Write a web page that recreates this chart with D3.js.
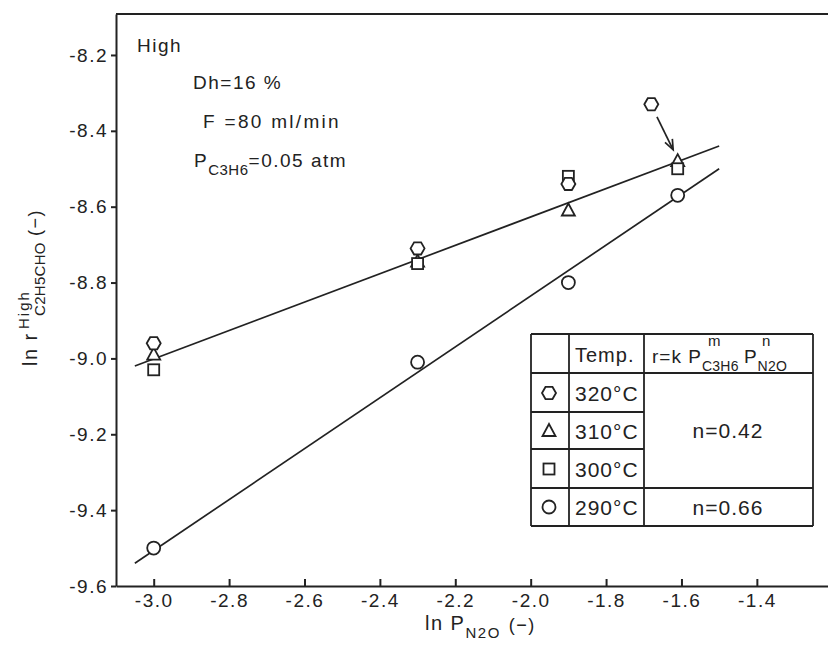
<!DOCTYPE html>
<html lang="en">
<head>
<meta charset="UTF-8">
<title>ln r High vs ln P N2O</title>
<script src="https://d3js.org/d3.v7.min.js"></script>
<style>
  body { margin: 0; background: #fff; }
  svg { font-family: "Liberation Sans", Arial, sans-serif; }
  text { fill: #222; }
  .axis path, .axis line { stroke: #222; stroke-width: 2px; }
  .axis text { font-size: 19px; letter-spacing: 1.5px; font-family: "Liberation Sans", Arial, sans-serif; }
  .fit { fill: none; stroke: #222; stroke-width: 1.7px; }
  .mark { fill: #fff; stroke: #222; stroke-width: 1.8px; }
  .tbl line { stroke: #222; stroke-width: 1.8px; }
  .note { font-size: 19px; letter-spacing: 1.5px; }
  .cell { font-size: 21px; letter-spacing: 1px; }
</style>
</head>
<body>
<div id="chart"></div>
<script>
// ln P_N2O of the runs
const lnP = [-3.00, -2.30, -1.90, -1.61];
const lnP320 = [-3.00, -2.30, -1.90, -1.68];   // last 320°C point sits left of the others
// ln r (High) per temperature
const r320 = [-8.96, -8.71, -8.54, -8.33];
const r310 = [-8.99, -8.745, -8.61, -8.48];
const r300 = [-9.03, -8.75, -8.52, -8.50];
const r290 = [-9.50, -9.01, -8.80, -8.57];

// fitted lines
const fitX = [-3.05, -1.50];
const fitHigh = [-9.02, -8.44];   // n=0.42
const fitLow = [-9.54, -8.50];    // n=0.66

// arrow from the 320°C outlier
const arrowX = [-1.665, -1.622];
const arrowY = [-8.363, -8.45];

const xTicks = [-3.0, -2.8, -2.6, -2.4, -2.2, -2.0, -1.8, -1.6, -1.4];
const yTicks = [-8.2, -8.4, -8.6, -8.8, -9.0, -9.2, -9.4, -9.6];
const temps = ["320°C", "310°C", "300°C", "290°C"];
const shapes = ["hex", "tri", "sq", "circ"];
const nLabels = ["n=0.42", "n=0.66"];

const W = 828, H = 645;
const svg = d3.select("#chart").append("svg")
    .attr("width", W).attr("height", H);

const x = d3.scaleLinear().domain([-3.1, -1.2113]).range([116, 828]);
const y = d3.scaleLinear().domain([-9.6, -8.092]).range([586, 14]);

// axes
svg.append("g").attr("class", "axis")
    .attr("transform", "translate(0,586)")
    .call(d3.axisBottom(x).tickValues(xTicks).tickSizeInner(-7).tickSizeOuter(0)
        .tickPadding(8).tickFormat(d => d.toFixed(1)));

svg.append("g").attr("class", "axis")
    .attr("transform", "translate(116,0)")
    .call(d3.axisLeft(y).tickValues(yTicks).tickSizeInner(5).tickSizeOuter(0)
        .tickPadding(3).tickFormat(d => d.toFixed(1)));

// top frame line
svg.append("line")
    .attr("x1", 116).attr("x2", 828)
    .attr("y1", y.range()[1]).attr("y2", y.range()[1])
    .attr("stroke", "#222").attr("stroke-width", 2);

// fitted lines
const line = d3.line().x(d => x(d[0])).y(d => y(d[1]));
[fitHigh, fitLow].forEach(f => {
    svg.append("path").attr("class", "fit")
        .attr("d", line(fitX.map((v, i) => [v, f[i]])));
});

// arrow
const a0 = [x(arrowX[0]), y(arrowY[0])], a1 = [x(arrowX[1]), y(arrowY[1])];
svg.append("path").attr("class", "fit").attr("d", line(arrowX.map((v, i) => [v, arrowY[i]])));
const ang = Math.atan2(a1[1] - a0[1], a1[0] - a0[0]);
const hl = 11, hw = 0.38;
svg.append("path").attr("class", "fit")
    .attr("d", `M${a1[0] - hl * Math.cos(ang - hw)},${a1[1] - hl * Math.sin(ang - hw)}`
        + `L${a1[0]},${a1[1]}`
        + `L${a1[0] - hl * Math.cos(ang + hw)},${a1[1] - hl * Math.sin(ang + hw)}`);

// markers
function marker(g, shape, cx, cy) {
    if (shape === "hex") {
        const pts = d3.range(6).map(k => {
            const t = k * Math.PI / 3;
            return [cx + 7 * Math.cos(t), cy + 7 * Math.sin(t)];
        });
        g.append("polygon").attr("class", "mark").attr("points", pts.join(" "));
    } else if (shape === "tri") {
        g.append("polygon").attr("class", "mark")
            .attr("points", [[cx, cy - 7], [cx + 6.5, cy + 5], [cx - 6.5, cy + 5]].join(" "));
    } else if (shape === "sq") {
        g.append("rect").attr("class", "mark")
            .attr("x", cx - 5.5).attr("y", cy - 5.5).attr("width", 11).attr("height", 11);
    } else {
        g.append("circle").attr("class", "mark")
            .attr("cx", cx).attr("cy", cy).attr("r", 6.5);
    }
}

const series = [
    {shape: "tri", xs: lnP, ys: r310},
    {shape: "sq", xs: lnP, ys: r300},
    {shape: "hex", xs: lnP320, ys: r320},
    {shape: "circ", xs: lnP, ys: r290}
];
const gm = svg.append("g");
series.forEach(s => s.xs.forEach((v, i) => marker(gm, s.shape, x(v), y(s.ys[i]))));

// notes
svg.append("text").attr("class", "note").attr("x", 137).attr("y", 52).text("High");
svg.append("text").attr("class", "note").attr("x", 193).attr("y", 89).text("Dh=16 %");
svg.append("text").attr("class", "note").attr("x", 203).attr("y", 128)
    .style("letter-spacing", "2.3px").text("F =80 ml/min");
const pt = svg.append("text").attr("class", "note").attr("x", 194).attr("y", 167);
pt.append("tspan").text("P");
pt.append("tspan").attr("dy", 8).style("font-size", "15px").style("letter-spacing", "0.5px").text("C3H6");
pt.append("tspan").attr("dy", -8).text("=0.05 atm");

// x title
const xt = svg.append("text").attr("x", 425).attr("y", 630).style("font-size", "20px").style("letter-spacing", "1.5px");
xt.append("tspan").text("ln P");
xt.append("tspan").attr("dy", 8).style("font-size", "15px").text("N2O");
xt.append("tspan").attr("dx", 8).attr("dy", -7).style("font-size", "18px").text("(−)");

// y title (rotated)
const yt = svg.append("g").attr("transform", "translate(37,0) rotate(-90)");
yt.append("text").attr("x", -366).attr("y", 0).style("font-size", "20px").style("letter-spacing", "1.5px").text("ln r");
yt.append("text").attr("x", -316).attr("y", 8).style("font-size", "15px").style("letter-spacing", "0.3px").text("C2H5CHO");
yt.append("text").attr("x", -329).attr("y", -8).style("font-size", "15px").style("letter-spacing", "2px").text("High");
yt.append("text").attr("x", -236).attr("y", 4).style("font-size", "18px").style("letter-spacing", "1.5px").text("(−)");

// legend table
const tb = svg.append("g").attr("class", "tbl");
const cx0 = 531, cx1 = 569, cx2 = 644, cx3 = 813;
const rows = [334, 373, 412, 449, 488, 526];
[[cx0, rows[0], cx3, rows[0]], [cx0, rows[5], cx3, rows[5]],
 [cx0, rows[0], cx0, rows[5]], [cx1, rows[0], cx1, rows[5]],
 [cx2, rows[0], cx2, rows[5]], [cx3, rows[0], cx3, rows[5]],
 [cx0, rows[1], cx3, rows[1]], [cx0, rows[4], cx3, rows[4]],
 [cx0, rows[2], cx2, rows[2]], [cx0, rows[3], cx2, rows[3]]].forEach(l => {
    tb.append("line").attr("x1", l[0]).attr("y1", l[1]).attr("x2", l[2]).attr("y2", l[3]);
});
tb.append("text").attr("class", "cell").attr("x", 575).attr("y", 362).style("font-size", "20px").text("Temp.");
const hd = tb.append("text").attr("class", "cell").attr("x", 652).attr("y", 363).style("font-size", "19px");
hd.append("tspan").text("r=k P");
hd.append("tspan").attr("dy", 8).style("font-size", "14px").style("letter-spacing", "0.3px").text("C3H6");
hd.append("tspan").attr("dx", 5).attr("dy", -8).text("P");
hd.append("tspan").attr("dy", 8).style("font-size", "14px").style("letter-spacing", "0.3px").text("N2O");
tb.append("text").attr("x", 708).attr("y", 346).style("font-size", "15px").text("m");
tb.append("text").attr("x", 762).attr("y", 346).style("font-size", "15px").text("n");

const rowMid = [393, 431, 469, 507];
temps.forEach((t, i) => {
    marker(tb, shapes[i], 549, rowMid[i]);
    tb.append("text").attr("class", "cell").attr("x", 575).attr("y", rowMid[i] + 8).text(t);
});
tb.append("text").attr("class", "cell").attr("x", 728).attr("y", 438).attr("text-anchor", "middle").text(nLabels[0]);
tb.append("text").attr("class", "cell").attr("x", 728).attr("y", 515).attr("text-anchor", "middle").text(nLabels[1]);
</script>
</body>
</html>
